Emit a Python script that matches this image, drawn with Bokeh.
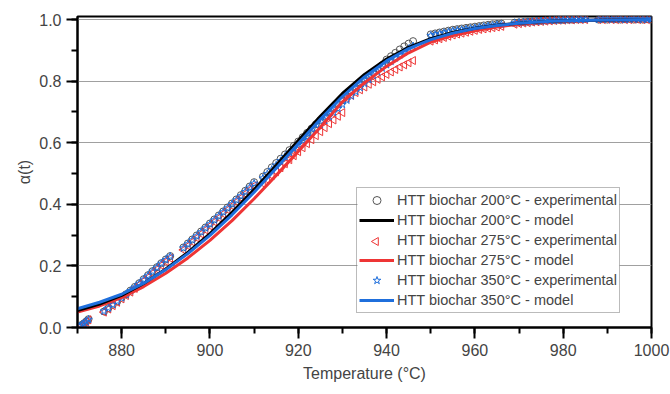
from bokeh.plotting import figure
from bokeh.models import (SingleIntervalTicker, NumeralTickFormatter, Range1d,
                          Legend, LegendItem, Title)
from bokeh.embed import file_html
from bokeh.resources import INLINE

# ---------------- data ----------------
temp_exp = [870.5, 871, 871.5, 872, 872.5,
            876, 877, 878, 879, 880, 881, 882, 883, 884, 885, 886, 887, 888, 889, 890, 891,
            894, 895, 896, 897, 898, 899, 900, 901, 902, 903, 904, 905, 906, 907, 908, 909, 910,
            912, 913, 914, 915, 916, 917, 918, 919, 920, 921, 922, 923, 924, 925, 926, 927, 928,
            929, 930, 931, 932, 933, 934, 935, 936, 937, 938, 939, 940, 941, 942, 943, 944, 945, 946,
            950, 951, 952, 953, 954, 955, 956, 957, 958, 959, 960, 961, 962, 963, 964, 965, 966,
            969, 970, 971, 972, 973, 974, 975, 976, 977, 978, 979, 980, 981, 982, 983, 984, 985,
            988, 989, 990, 991, 992, 993, 994, 995, 996, 997, 998, 999, 1000]

exp_200 = [0.004, 0.009, 0.014, 0.020, 0.027,
           0.052, 0.063, 0.074, 0.085, 0.097, 0.108, 0.120, 0.132, 0.144, 0.157, 0.170, 0.183, 0.196, 0.209, 0.221, 0.232,
           0.260, 0.273, 0.286, 0.299, 0.312, 0.325, 0.338, 0.351, 0.364, 0.377, 0.390, 0.403, 0.416, 0.430, 0.444, 0.458, 0.472,
           0.490, 0.505, 0.520, 0.534, 0.548, 0.562, 0.576, 0.590, 0.604, 0.618, 0.632, 0.646, 0.660, 0.673, 0.686, 0.699, 0.712,
           0.725, 0.738, 0.752, 0.766, 0.779, 0.792, 0.804, 0.816, 0.828, 0.840, 0.852, 0.870, 0.881, 0.892, 0.903, 0.913, 0.922, 0.930,
           0.952, 0.955, 0.958, 0.961, 0.964, 0.967, 0.969, 0.971, 0.973, 0.975, 0.977, 0.979, 0.981, 0.983, 0.985, 0.986, 0.987,
           0.990, 0.991, 0.992, 0.993, 0.994, 0.995, 0.996, 0.997, 0.998, 0.998, 0.999, 0.999, 1.000, 1.000, 1.001, 1.001, 1.002,
           1.000, 1.001, 1.000, 1.002, 1.001, 1.000, 1.001, 1.002, 1.000, 1.001, 1.000, 1.001, 1.000]

exp_275 = [0.003, 0.008, 0.012, 0.018, 0.025,
           0.050, 0.060, 0.071, 0.082, 0.093, 0.104, 0.115, 0.127, 0.139, 0.151, 0.163, 0.176, 0.189, 0.202, 0.214, 0.225,
           0.252, 0.265, 0.278, 0.291, 0.304, 0.317, 0.330, 0.343, 0.356, 0.369, 0.382, 0.395, 0.408, 0.421, 0.434, 0.447, 0.460,
           0.468, 0.480, 0.493, 0.506, 0.519, 0.532, 0.545, 0.558, 0.571, 0.584, 0.597, 0.610, 0.623, 0.636, 0.649, 0.662, 0.674,
           0.686, 0.698, 0.745, 0.754, 0.763, 0.772, 0.781, 0.790, 0.798, 0.806, 0.814, 0.822, 0.830, 0.838, 0.846, 0.853, 0.860, 0.867,
           0.930, 0.934, 0.938, 0.942, 0.946, 0.950, 0.953, 0.956, 0.959, 0.962, 0.965, 0.968, 0.970, 0.972, 0.974, 0.976, 0.978,
           0.985, 0.987, 0.989, 0.990, 0.992, 0.993, 0.994, 0.995, 0.996, 0.997, 0.998, 0.998, 0.999, 0.999, 1.000, 1.000, 1.000,
           1.000, 1.000, 1.001, 1.000, 1.000, 1.001, 1.000, 1.000, 1.001, 1.000, 1.000, 1.000, 1.000]

exp_350 = [0.004, 0.009, 0.013, 0.019, 0.026,
           0.053, 0.063, 0.074, 0.085, 0.096, 0.107, 0.119, 0.131, 0.143, 0.156, 0.169, 0.182, 0.195, 0.208, 0.220, 0.231,
           0.258, 0.271, 0.284, 0.297, 0.310, 0.323, 0.336, 0.349, 0.362, 0.375, 0.388, 0.401, 0.414, 0.427, 0.441, 0.455, 0.468,
           0.485, 0.499, 0.513, 0.527, 0.541, 0.555, 0.568, 0.581, 0.594, 0.607, 0.620, 0.633, 0.646, 0.659, 0.672, 0.685, 0.698,
           0.711, 0.724, 0.738, 0.752, 0.766, 0.779, 0.792, 0.805, 0.818, 0.830, 0.842, 0.853, 0.864, 0.875, 0.885, 0.895, 0.905, 0.914,
           0.948, 0.951, 0.954, 0.957, 0.960, 0.963, 0.965, 0.967, 0.969, 0.971, 0.973, 0.975, 0.977, 0.979, 0.981, 0.983, 0.984,
           0.989, 0.990, 0.991, 0.992, 0.993, 0.994, 0.995, 0.996, 0.997, 0.997, 0.998, 0.998, 0.999, 0.999, 1.000, 1.000, 1.001,
           1.000, 1.001, 1.001, 1.000, 1.002, 1.001, 1.000, 1.001, 1.002, 1.001, 1.000, 1.001, 1.001]

temp_model = [870, 875, 880, 885, 890, 895, 900, 905, 910, 915, 920, 925, 930, 935,
              940, 945, 950, 955, 960, 965, 970, 975, 980, 990, 1000]
model_200 = [0.055, 0.076, 0.104, 0.143, 0.190, 0.244, 0.305, 0.374, 0.448, 0.527, 0.607, 0.686, 0.760, 0.822,
             0.872, 0.910, 0.938, 0.958, 0.972, 0.982, 0.988, 0.993, 0.996, 0.999, 1.000]
model_275 = [0.050, 0.070, 0.097, 0.133, 0.176, 0.226, 0.283, 0.347, 0.418, 0.494, 0.572, 0.650, 0.733, 0.795,
             0.848, 0.892, 0.927, 0.948, 0.964, 0.976, 0.985, 0.991, 0.995, 0.999, 1.000]
model_350 = [0.061, 0.082, 0.108, 0.144, 0.188, 0.240, 0.299, 0.366, 0.439, 0.517, 0.597, 0.676, 0.750, 0.814,
             0.866, 0.906, 0.935, 0.956, 0.971, 0.981, 0.988, 0.993, 0.996, 0.999, 1.000]

labels = ["HTT biochar 200°C - experimental", "HTT biochar 200°C - model",
          "HTT biochar 275°C - experimental", "HTT biochar 275°C - model",
          "HTT biochar 350°C - experimental", "HTT biochar 350°C - model"]
x_title = "Temperature (°C)"
y_title = "α(t)"

FONT = "Liberation Sans"
GRAY = "#555555"
RED = "#ee3535"
BLUE = "#1f6fdc"

W, H = 670, 394
BL, BR, BT, BB = 77, 19, 16, 67
X0, X1, Y0, Y1 = 870, 1000, 0, 1.01

p = figure(width=W, height=H, output_backend="svg", toolbar_location=None,
           x_range=Range1d(X0, X1), y_range=Range1d(Y0, Y1),
           min_border_left=BL, min_border_right=BR, min_border_top=BT, min_border_bottom=BB)
p.background_fill_color = "white"
p.border_fill_color = "white"
p.outline_line_color = "black"
p.outline_line_width = 2

# legend geometry (screen px, measured from the frame's bottom-left corner)
LEG_X, LEG_Y, LEG_PAD, ROW_H, GLYPH_W, LEG_W = 279, 14, 2, 20, 35, 264
frame_w = W - BL - BR
frame_h = H - BT - BB
n_rows = len(labels)
LEG_H = 2 * LEG_PAD + n_rows * ROW_H


def sx_to_x(s):
    return X0 + s / frame_w * (X1 - X0)


def sy_to_y(s):
    return Y0 + s / frame_h * (Y1 - Y0)


# white backing of the legend box (beneath the glyphs, above the grid)
p.quad(left=[sx_to_x(LEG_X + 1)], right=[sx_to_x(LEG_X + LEG_W - 1)],
       bottom=[sy_to_y(LEG_Y + 1)], top=[sy_to_y(LEG_Y + LEG_H - 1)],
       fill_color="white", line_color=None)

r_c = p.scatter(temp_exp, exp_200, marker="circle", size=7, fill_color=None,
                line_color=GRAY, line_width=1)
r_t = p.scatter(temp_exp, exp_275, marker="triangle", angle=90, angle_units="deg", size=8,
                fill_color=None, line_color=RED, line_width=1)
r_s = p.scatter(temp_exp, exp_350, marker="star", size=8, fill_color=None,
                line_color=BLUE, line_width=1)
r_rl = p.line(temp_model, model_275, line_color=RED, line_width=3)
r_bl = p.line(temp_model, model_200, line_color="black", line_width=3)
r_ul = p.line(temp_model, model_350, line_color=BLUE, line_width=3)
# empty renderer for the legend row of the triangles; its key is drawn as a glyph below
r_t_leg = p.text(x=[], y=[], text=[])
p.scatter(x=[sx_to_x(LEG_X + LEG_PAD + GLYPH_W / 2)],
          y=[sy_to_y(LEG_Y + LEG_PAD + (n_rows - 2.5) * ROW_H)],
          marker="triangle", angle=90, angle_units="deg", size=8,
          fill_color=None, line_color=RED, line_width=1)

# axes (tick marks configured exactly as in the working test)
p.xaxis.ticker = SingleIntervalTicker(interval=20, num_minor_ticks=2)
p.yaxis.ticker = SingleIntervalTicker(interval=0.2, num_minor_ticks=2)
p.yaxis.formatter = NumeralTickFormatter(format="0.0")
for ax in (p.xaxis[0], p.yaxis[0]):
    ax.axis_line_width = 2
    ax.major_tick_line_color = "black"
    ax.minor_tick_line_color = "black"
    ax.major_tick_line_width = 2
    ax.minor_tick_line_width = 2
    ax.major_tick_out = 11
    ax.major_tick_in = 0
    ax.minor_tick_out = 6
    ax.minor_tick_in = 0
    ax.major_label_text_font = FONT
    ax.major_label_text_font_size = "16px"

# axis titles as side titles
xt = Title(text=x_title, align="center", text_font=FONT, text_font_size="16px",
           text_font_style="normal", standoff=8)
yt = Title(text=y_title, align="center", text_font=FONT, text_font_size="16px",
           text_font_style="normal", standoff=8)
p.add_layout(xt, "below")
p.add_layout(yt, "left")

p.xgrid.visible = False
p.ygrid.grid_line_color = "#a0a0a0"
p.ygrid.grid_line_width = 1

legend = Legend(items=[
    LegendItem(label=labels[0], renderers=[r_c]),
    LegendItem(label=labels[1], renderers=[r_bl]),
    LegendItem(label=labels[2], renderers=[r_t_leg]),
    LegendItem(label=labels[3], renderers=[r_rl]),
    LegendItem(label=labels[4], renderers=[r_s]),
    LegendItem(label=labels[5], renderers=[r_ul]),
], location=(LEG_X, LEG_Y))
legend.label_text_font = FONT
legend.label_text_font_size = "14.5px"
legend.padding = LEG_PAD
legend.spacing = 0
legend.margin = 0
legend.glyph_width = GLYPH_W
legend.glyph_height = ROW_H
legend.label_height = ROW_H
legend.label_standoff = 3
legend.border_line_color = "#777777"
legend.border_line_width = 1
legend.background_fill_alpha = 0
p.add_layout(legend, "center")

open("out.html", "w").write(file_html(p, INLINE))
